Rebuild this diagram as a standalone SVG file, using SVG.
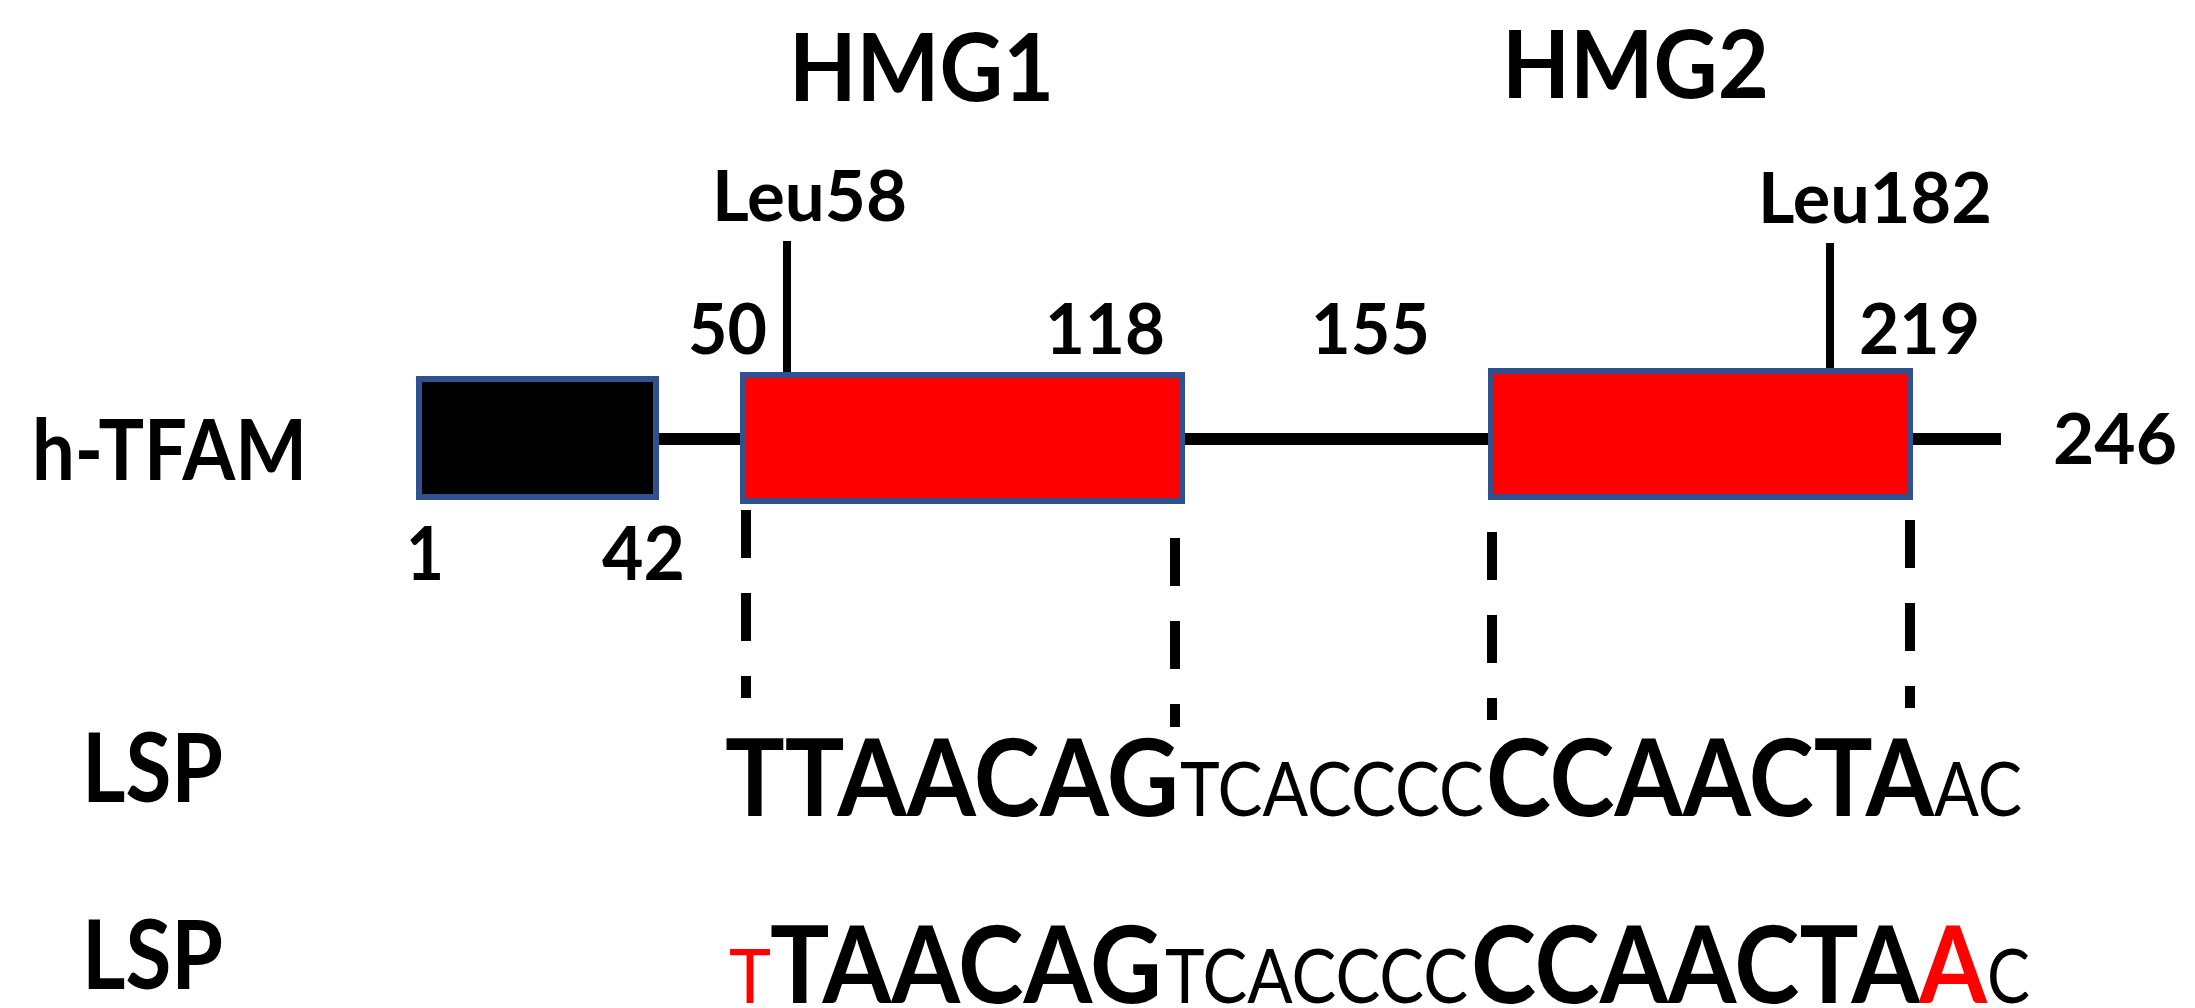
<svg xmlns="http://www.w3.org/2000/svg" width="2195" height="1008" viewBox="0 0 2195 1008">
<style>
  .b { font-family: Lato, "Open Sans", "Liberation Sans", sans-serif; font-weight: 700; fill: #000; }
  .r { font-family: Lato, "Open Sans", "Liberation Sans", sans-serif; font-weight: 400; fill: #000; }
  .red { fill: #FF0000; }
  .box { stroke: #2F528F; stroke-width: 6; }
  .dash { stroke: #000; stroke-width: 10; stroke-dasharray: 48 35; fill: none; }
  .tick { stroke: #000; stroke-width: 8; fill: none; }
</style>
<rect width="2195" height="1008" fill="#fff"/>

<g id="connectors">
  <line x1="659" y1="439" x2="2001" y2="439" stroke="#000" stroke-width="12"/>
  <line class="tick" x1="787" y1="241" x2="787" y2="373"/>
  <line class="tick" x1="1830" y1="243" x2="1830" y2="369"/>
  <line class="dash" x1="746" y1="510" x2="746" y2="698"/>
  <line class="dash" x1="1175" y1="538" x2="1175" y2="727"/>
  <line class="dash" x1="1492" y1="532" x2="1492" y2="720"/>
  <line class="dash" x1="1910" y1="520" x2="1910" y2="708"/>
</g>

<g id="domain-n">
  <rect class="box" x="419" y="379" width="237" height="118" fill="#000"/>
</g>
<g id="domain-hmg1">
  <rect class="box" x="743" y="375" width="439" height="126" fill="#FF0000"/>
</g>
<g id="domain-hmg2">
  <rect class="box" x="1491" y="371" width="419" height="126" fill="#FF0000"/>
</g>

<g id="labels">
  <text class="b" x="789" y="101" font-size="93" textLength="265" lengthAdjust="spacingAndGlyphs">HMG1</text>
  <text class="b" x="1502" y="98" font-size="93" textLength="267" lengthAdjust="spacingAndGlyphs">HMG2</text>
  <text class="b" x="712" y="221" font-size="70" textLength="195" lengthAdjust="spacingAndGlyphs">Leu58</text>
  <text class="b" x="1758" y="223" font-size="70" textLength="234" lengthAdjust="spacingAndGlyphs">Leu182</text>
  <text class="b" x="688" y="354" font-size="70" textLength="79" lengthAdjust="spacingAndGlyphs">50</text>
  <text class="b" x="1045" y="354" font-size="70" textLength="120" lengthAdjust="spacingAndGlyphs">118</text>
  <text class="b" x="1311" y="354" font-size="70" textLength="119" lengthAdjust="spacingAndGlyphs">155</text>
  <text class="b" x="1859" y="354" font-size="70" textLength="121" lengthAdjust="spacingAndGlyphs">219</text>
  <text class="b" x="2053" y="464" font-size="70" textLength="124" lengthAdjust="spacingAndGlyphs">246</text>
  <text class="b" x="32" y="480" font-size="84" textLength="275" lengthAdjust="spacingAndGlyphs">h-TFAM</text>
  <text class="b" x="406" y="580" font-size="75" textLength="38" lengthAdjust="spacingAndGlyphs">1</text>
  <text class="b" x="602" y="580" font-size="75" textLength="83" lengthAdjust="spacingAndGlyphs">42</text>
</g>

<g id="lsp-row1">
  <text class="b" x="82" y="802" font-size="96" textLength="141" lengthAdjust="spacingAndGlyphs">LSP</text>
  <text class="b" x="725" y="816" font-size="108" textLength="454" lengthAdjust="spacingAndGlyphs">TTAACAG</text>
  <text class="r" x="1180" y="816" font-size="76" textLength="304" lengthAdjust="spacingAndGlyphs">TCACCCC</text>
  <text class="b" x="1486" y="816" font-size="108" textLength="448" lengthAdjust="spacingAndGlyphs">CCAACTA</text>
  <text class="r" x="1934" y="816" font-size="76" textLength="88" lengthAdjust="spacingAndGlyphs">AC</text>
</g>

<g id="lsp-row2">
  <text class="b" x="82" y="989" font-size="96" textLength="141" lengthAdjust="spacingAndGlyphs">LSP</text>
  <text class="r red" x="729" y="1003" font-size="76" textLength="42" lengthAdjust="spacingAndGlyphs">T</text>
  <text class="b" x="770" y="1003" font-size="108" textLength="392" lengthAdjust="spacingAndGlyphs">TAACAG</text>
  <text class="r" x="1165" y="1003" font-size="76" textLength="303" lengthAdjust="spacingAndGlyphs">TCACCCC</text>
  <text class="b" x="1471" y="1003" font-size="108" textLength="449" lengthAdjust="spacingAndGlyphs">CCAACTA</text>
  <text class="b red" x="1919" y="1003" font-size="108" textLength="68" lengthAdjust="spacingAndGlyphs">A</text>
  <text class="r" x="1987" y="1003" font-size="76" textLength="43" lengthAdjust="spacingAndGlyphs">C</text>
</g>
</svg>
